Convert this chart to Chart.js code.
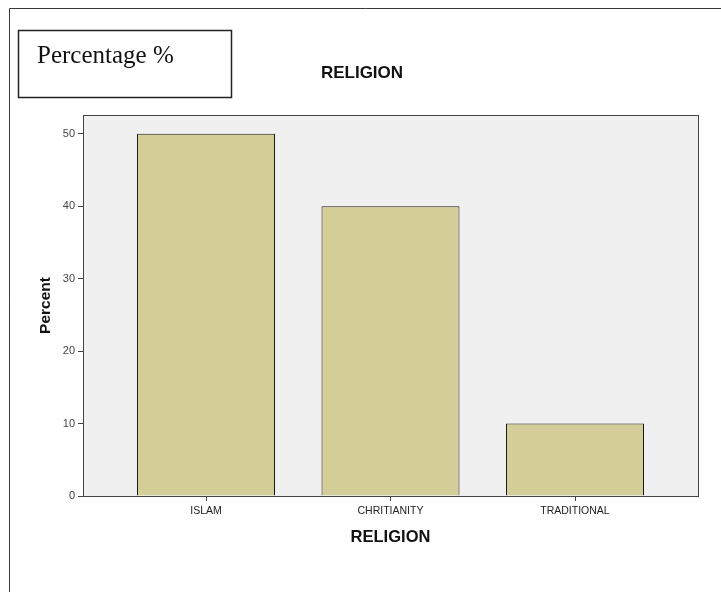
<!DOCTYPE html>
<html>
<head>
<meta charset="utf-8">
<script src="https://cdn.jsdelivr.net/npm/chart.js@4/dist/chart.umd.min.js"></script>
<style>
html,body{margin:0;padding:0;background:#fff;}
#wrap{position:relative;width:721px;height:592px;}
</style>
</head>
<body>
<div id="wrap"><canvas id="c" width="721" height="592"></canvas></div>
<script>
const categories = ["ISLAM", "CHRITIANITY", "TRADITIONAL"];
const percentValues = [50, 40, 10];
const yTickValues = [0, 10, 20, 30, 40, 50];
const chartTitle = "RELIGION";
const xTitle = "RELIGION";
const yTitle = "Percent";
const boxLabel = "Percentage %";

const points = categories.map((c, i) => ({x: i + 1, y: percentValues[i]}));

const decor = {
  id: 'decor',
  beforeDraw(chart) {
    const ctx = chart.ctx;
    const a = chart.chartArea;
    ctx.save();
    ctx.fillStyle = '#fff';
    ctx.fillRect(0, 0, chart.width, chart.height);
    ctx.strokeStyle = '#3a3a3a';
    ctx.lineWidth = 1;
    ctx.beginPath();
    ctx.moveTo(9.5, 592);
    ctx.lineTo(9.5, 8.5);
    ctx.lineTo(721, 8.5);
    ctx.stroke();
    ctx.strokeStyle = '#222';
    ctx.lineWidth = 1.5;
    ctx.strokeRect(18.5, 30.5, 213, 67);
    ctx.fillStyle = '#111';
    ctx.font = '25px "Liberation Serif", serif';
    ctx.textBaseline = 'alphabetic';
    ctx.fillText(boxLabel, 37, 63);
    ctx.fillStyle = '#f0f0f0';
    ctx.fillRect(a.left, a.top, a.right - a.left, a.bottom - a.top);
    ctx.restore();
  },
  afterDraw(chart) {
    const ctx = chart.ctx;
    const a = chart.chartArea;
    ctx.save();
    ctx.strokeStyle = '#444';
    ctx.lineWidth = 1;
    ctx.strokeRect(Math.round(a.left) + 0.5, Math.round(a.top) + 0.5, Math.round(a.right - a.left), Math.round(a.bottom - a.top));
    ctx.restore();
  }
};

new Chart(document.getElementById('c'), {
  type: 'bar',
  data: {
    datasets: [{
      data: points,
      backgroundColor: '#d3ce97',
      borderColor: '#1a1a1a',
      borderWidth: 1,
      categoryPercentage: 1,
      barPercentage: 0.748
    }]
  },
  plugins: [decor],
  options: {
    responsive: false,
    animation: false,
    devicePixelRatio: 1,
    layout: {padding: {left: 3, right: 0, top: 0, bottom: 0}},
    plugins: {
      legend: {display: false},
      tooltip: {enabled: false},
      title: {
        display: true,
        text: chartTitle,
        color: '#111',
        font: {family: '"Liberation Sans", Arial, sans-serif', size: 17, weight: 'bold', lineHeight: 1.2},
        padding: {top: 62.8, bottom: 31.8}
      }
    },
    scales: {
      x: {
        type: 'linear',
        offset: false,
        min: 1 - 2 / 3,
        max: 3 + 2 / 3,
        afterBuildTicks: (s) => { s.ticks = categories.map((c, i) => ({value: i + 1})); },
        afterFit: (s) => { s.height = 96; },
        grid: {display: true, offset: false, drawOnChartArea: false, drawTicks: true, tickLength: 5, tickColor: '#444', tickWidth: 1},
        border: {display: true, color: '#444', width: 1},
        ticks: {
          autoSkip: false,
          maxRotation: 0,
          padding: 4,
          color: '#222',
          font: {family: '"Liberation Sans", Arial, sans-serif', size: 10.5},
          callback: (v) => categories[Math.round(v) - 1] || ''
        },
        title: {
          display: true,
          text: xTitle,
          color: '#111',
          font: {family: '"Liberation Sans", Arial, sans-serif', size: 16.5, weight: 'bold', lineHeight: 1.2},
          padding: {top: 0, bottom: 45.1}
        }
      },
      y: {
        min: 0,
        max: 52.6,
        afterBuildTicks: (s) => { s.ticks = yTickValues.map(v => ({value: v})); },
        afterFit: (s) => { s.width = 80; },
        grid: {display: true, drawOnChartArea: false, drawTicks: true, tickLength: 5, tickColor: '#444', tickWidth: 1},
        border: {display: true, color: '#444', width: 1},
        ticks: {
          padding: 3,
          color: '#444',
          font: {family: '"Liberation Sans", Arial, sans-serif', size: 11}
        },
        title: {
          display: true,
          text: yTitle,
          color: '#111',
          font: {family: '"Liberation Sans", Arial, sans-serif', size: 15.5, weight: 'bold', lineHeight: 1.2},
          padding: {top: 33.7, bottom: 0}
        }
      },
      ySpacer: {
        position: 'right',
        display: true,
        afterFit: (s) => { s.width = 23; },
        grid: {display: false},
        border: {display: false},
        ticks: {display: false}
      }
    }
  }
});
</script>
</body>
</html>
